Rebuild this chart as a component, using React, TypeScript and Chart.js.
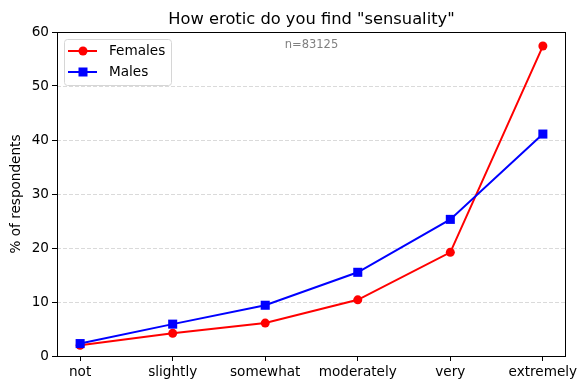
import React, { useEffect, useRef } from "react";
import { Chart, registerables } from "chart.js";
Chart.register(...registerables);

const categories = ["not", "slightly", "somewhat", "moderately", "very", "extremely"];
const females = [2.0, 4.2, 6.1, 10.4, 19.2, 57.4];
const males = [2.3, 5.9, 9.4, 15.5, 25.3, 41.1];
const yTicks = [0, 10, 20, 30, 40, 50, 60];
const seriesNames = ["Females", "Males"];
const titleText = 'How erotic do you find "sensuality"';
const yLabel = "% of respondents";
const note = "n=83125";

const FONT = "'DejaVu Sans', sans-serif";
const RED = "#ff0000";
const BLUE = "#0000ff";

const overlay = {
  id: "overlay",
  beforeDatasetsDraw(chart: any) {
    const { ctx, chartArea: a, scales } = chart;
    const y = scales.y;
    ctx.save();
    ctx.strokeStyle = "rgba(176,176,176,0.6)";
    ctx.lineWidth = 0.8;
    ctx.setLineDash([4, 2]);
    yTicks.forEach((t) => {
      if (t === yTicks[0] || t === yTicks[yTicks.length - 1]) return;
      const py = Math.round(y.getPixelForValue(t)) + 0.5;
      ctx.beginPath();
      ctx.moveTo(a.left, py);
      ctx.lineTo(a.right, py);
      ctx.stroke();
    });
    ctx.restore();
  },
  afterDraw(chart: any) {
    const { ctx, chartArea: a } = chart;
    ctx.save();
    // frame
    ctx.strokeStyle = "#000";
    ctx.lineWidth = 1;
    ctx.setLineDash([]);
    ctx.strokeRect(a.left + 0.5, a.top + 0.5, a.right - a.left - 1, a.bottom - a.top);
    // title
    ctx.fillStyle = "#000";
    ctx.font = `16.3px ${FONT}`;
    ctx.textAlign = "center";
    ctx.textBaseline = "alphabetic";
    ctx.fillText(titleText, (a.left + a.right) / 2, a.top - 8);
    // y label
    ctx.save();
    ctx.translate(16, (a.top + a.bottom) / 2);
    ctx.rotate(-Math.PI / 2);
    ctx.font = `13.6px ${FONT}`;
    ctx.textBaseline = "middle";
    ctx.textAlign = "center";
    ctx.fillText(yLabel, 0, 0);
    ctx.restore();
    // note
    ctx.fillStyle = "#808080";
    ctx.font = `11.5px ${FONT}`;
    ctx.textAlign = "center";
    ctx.textBaseline = "middle";
    ctx.fillText(note, (a.left + a.right) / 2, a.top + 13);
    // legend
    const bx = a.left + 7, by = a.top + 7, bw = 107, bh = 46;
    ctx.beginPath();
    if ((ctx as any).roundRect) (ctx as any).roundRect(bx + 0.5, by + 0.5, bw, bh, 3);
    else ctx.rect(bx + 0.5, by + 0.5, bw, bh);
    ctx.fillStyle = "rgba(255,255,255,0.8)";
    ctx.fill();
    ctx.strokeStyle = "#d6d6d6";
    ctx.lineWidth = 1;
    ctx.stroke();
    const colors = [RED, BLUE];
    seriesNames.forEach((name, i) => {
      const ly = a.top + 19 + i * 21;
      ctx.strokeStyle = colors[i];
      ctx.lineWidth = 2;
      ctx.beginPath();
      ctx.moveTo(a.left + 11, ly);
      ctx.lineTo(a.left + 40, ly);
      ctx.stroke();
      ctx.fillStyle = colors[i];
      const mx = a.left + 26;
      if (i === 0) {
        ctx.beginPath();
        ctx.arc(mx, ly, 4.5, 0, Math.PI * 2);
        ctx.fill();
      } else {
        ctx.fillRect(mx - 4.5, ly - 4.5, 9, 9);
      }
      ctx.fillStyle = "#000";
      ctx.font = `13.6px ${FONT}`;
      ctx.textAlign = "left";
      ctx.textBaseline = "middle";
      ctx.fillText(name, a.left + 52, ly);
    });
    ctx.restore();
  },
};

export default function App() {
  const ref = useRef<HTMLCanvasElement | null>(null);
  useEffect(() => {
    document.body.style.margin = "0";
    const canvas = ref.current!;
    const chart = new Chart(canvas, {
      type: "line",
      data: {
        datasets: [
          {
            label: seriesNames[0],
            data: categories.map((_, i) => ({ x: i, y: females[i] })),
            borderColor: RED,
            backgroundColor: RED,
            borderWidth: 2,
            pointStyle: "circle",
            pointRadius: 4.5,
            pointBorderWidth: 0,
            order: 1,
          },
          {
            label: seriesNames[1],
            data: categories.map((_, i) => ({ x: i, y: males[i] })),
            borderColor: BLUE,
            backgroundColor: BLUE,
            borderWidth: 2,
            pointStyle: "rect",
            pointRadius: 6.4,
            pointBorderWidth: 0,
            order: 0,
          },
        ],
      },
      options: {
        animation: false,
        responsive: false,
        devicePixelRatio: 1,
        layout: { padding: { top: 32, left: 0, right: 21, bottom: 0 } },
        plugins: { legend: { display: false }, tooltip: { enabled: false }, title: { display: false } },
        scales: {
          x: {
            type: "linear",
            min: -0.25,
            max: 5.25,
            afterBuildTicks: (s: any) => {
              s.ticks = categories.map((_, i) => ({ value: i }));
            },
            afterFit: (s: any) => {
              s.height = 34;
            },
            ticks: {
              callback: (v: any) => categories[v] ?? "",
              color: "#000",
              font: { family: FONT, size: 13.6 },
              padding: 3,
              maxRotation: 0,
              autoSkip: false,
            },
            grid: { drawOnChartArea: false, drawTicks: true, tickLength: 5, tickColor: "#000", tickWidth: 1 },
            border: { display: false },
          },
          y: {
            type: "linear",
            min: 0,
            max: 60,
            afterBuildTicks: (s: any) => {
              s.ticks = yTicks.map((v) => ({ value: v }));
            },
            afterFit: (s: any) => {
              s.width = 57;
            },
            ticks: {
              color: "#000",
              font: { family: FONT, size: 13.6 },
              padding: 3,
              autoSkip: false,
            },
            grid: { drawOnChartArea: false, drawTicks: true, tickLength: 5, tickColor: "#000", tickWidth: 1 },
            border: { display: false },
          },
        },
      },
      plugins: [overlay],
    } as any);
    return () => chart.destroy();
  }, []);
  return <canvas ref={ref} width={587} height={390} style={{ display: "block" }} />;
}
